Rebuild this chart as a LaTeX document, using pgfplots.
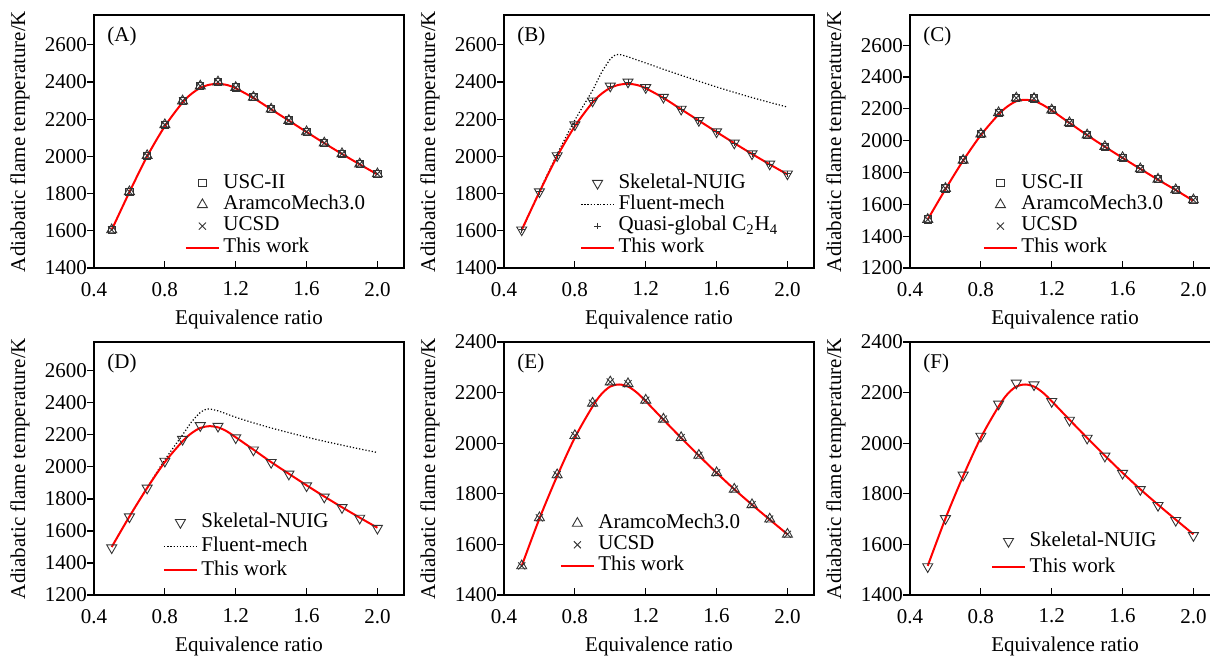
\documentclass[border=0pt]{standalone}
\usepackage{fontspec}
\setmainfont{Liberation Serif}
\usepackage{pgfplots}
\usepackage{pgfplotstable}
\pgfplotsset{compat=1.18}

% marker data (phi, T)
\pgfplotstableread{
x T
0.5 1605
0.6 1810
0.7 2004
0.8 2170
0.9 2298
1.0 2378
1.1 2400
1.2 2370
1.3 2318
1.4 2254
1.5 2193
1.6 2132
1.7 2072
1.8 2014
1.9 1959
2.0 1906
}\dataA
\pgfplotstableread{
x T
0.5 1605
0.6 1808
0.7 2000
0.8 2162
0.9 2290
0.95 2336
1.0 2368
1.05 2385
1.1 2390
1.15 2384
1.2 2366
1.3 2314
1.4 2253
1.5 2192
1.6 2131
1.7 2071
1.8 2013
1.9 1957
2.0 1903
}\workA
\pgfplotstableread{
x T
0.5 1600
0.6 1812
0.7 2012
0.8 2195
0.9 2355
0.95 2450
1.0 2523
1.03 2546
1.06 2546
1.1 2535
1.2 2502
1.3 2468
1.4 2436
1.5 2404
1.6 2373
1.7 2344
1.8 2316
1.9 2290
2.0 2265
}\fluentB
\pgfplotstableread{
x T
0.5 1505
0.6 1700
0.7 1877
0.8 2042
0.9 2176
1.0 2268
1.1 2265
1.2 2193
1.3 2113
1.4 2036
1.5 1963
1.6 1894
1.7 1823
1.8 1758
1.9 1691
2.0 1628
}\dataC
\pgfplotstableread{
x T
0.5 1505
0.6 1695
0.7 1875
0.8 2035
0.9 2165
0.95 2215
1.0 2248
1.05 2257
1.1 2250
1.15 2225
1.2 2190
1.3 2112
1.4 2035
1.5 1962
1.6 1892
1.7 1823
1.8 1755
1.9 1690
2.0 1622
}\workC
\pgfplotstableread{
x T
0.5 1495
0.6 1688
0.7 1868
0.8 2036
0.9 2172
1.0 2258
1.1 2254
1.2 2182
1.3 2106
1.4 2028
1.5 1955
1.6 1882
1.7 1812
1.8 1746
1.9 1680
2.0 1617
}\dataD
\pgfplotstableread{
x T
0.5 1500
0.6 1690
0.7 1868
0.8 2030
0.9 2160
0.95 2210
1.0 2243
1.05 2254
1.1 2247
1.15 2222
1.2 2185
1.3 2108
1.4 2030
1.5 1957
1.6 1885
1.7 1815
1.8 1748
1.9 1683
2.0 1620
}\workD
\pgfplotstableread{
x T
0.5 1500
0.6 1690
0.7 1870
0.8 2045
0.9 2200
0.95 2280
1.0 2340
1.04 2362
1.1 2350
1.2 2310
1.3 2275
1.4 2243
1.5 2214
1.6 2186
1.7 2160
1.8 2136
1.9 2112
2.0 2090
}\fluentD
\pgfplotstableread{
x T
0.5 1515
0.6 1705
0.7 1875
0.8 2030
0.9 2158
1.0 2242
1.1 2235
1.2 2170
1.3 2095
1.4 2022
1.5 1952
1.6 1883
1.7 1818
1.8 1757
1.9 1700
2.0 1640
}\dataE
\pgfplotstableread{
x T
0.5 1512
0.6 1702
0.7 1874
0.8 2028
0.9 2155
1.0 2238
1.1 2231
1.2 2165
1.3 2091
1.4 2020
1.5 1949
1.6 1881
1.7 1817
1.8 1754
1.9 1695
2.0 1635
}\dataF
\pgfplotstableread{
x T
0.5 1515
0.6 1702
0.7 1870
0.8 2022
0.9 2145
0.95 2194
1.0 2224
1.05 2232
1.1 2224
1.15 2200
1.2 2166
1.3 2093
1.4 2021
1.5 1951
1.6 1883
1.7 1818
1.8 1757
1.9 1698
2.0 1640
}\workE

\pgfplotsset{
  limg/.style={legend image code/.code={\draw[mark repeat=2,mark phase=2,##1] plot coordinates {(0pt,0pt) (8.25pt,0pt) (16.5pt,0pt)};}},
  flame/.style={
    scale only axis, width=155pt, height=126.5pt,
    anchor=south west,
    xmin=0.4, xmax=2.15,
    xtick={0.4,0.8,1.2,1.6,2.0},
    xticklabels={0.4,0.8,1.2,1.6,2.0},
    xtick pos=bottom, ytick pos=left,
    tick align=outside,
    major tick length=3.5pt,
    major x tick style={yshift=3.5pt},
    tick style={black, line width=0.6pt},
    axis line style={black, line width=0.7pt},
    font=\fontsize{10.5}{12}\selectfont,
    /pgf/number format/assume math mode=true,
    /pgf/number format/1000 sep={},
    yticklabel style={xshift=3.5pt},
    xlabel={Equivalence ratio},
    ylabel={Adiabatic flame temperature/K},
    every axis x label/.style={at={(axis description cs:0.5,-0.205)},anchor=center},
    every axis y label/.style={at={(axis description cs:-0.239,0.5)},rotate=90,anchor=center},
    legend cell align=left,
    legend style={draw=none, fill=none, anchor=south west, inner sep=0pt, row sep=0pt,
      font=\fontsize{10.5}{12}\selectfont,
      nodes={inner xsep=1.75pt, inner ysep=0.7pt, text height=7pt, text depth=2.3pt}},
    clip=false,
  },
  msq/.style={only marks, black!80, mark=square, mark size=1.8pt, mark options={solid, line width=0.45pt}, limg},
  mtri/.style={only marks, black!80, mark=triangle, mark size=2.9pt, mark options={solid, line width=0.45pt}, limg},
  mx/.style={only marks, black!80, mark=x, mark size=2.5pt, mark options={solid, line width=0.45pt}, limg},
  mdtri/.style={only marks, black!80, mark=triangle, mark size=2.9pt, mark options={solid, rotate=180, line width=0.45pt}, limg},
  mplus/.style={only marks, black!80, mark=+, mark size=1.6pt, mark options={solid, line width=0.45pt}, limg},
  work/.style={red, line width=1pt, smooth, no marks, limg},
  fluent/.style={black, densely dotted, line width=0.6pt, smooth, tension=0.4, no marks, limg},
}

\begin{document}
\begin{tikzpicture}
\useasboundingbox (0,0) rectangle (605pt,328pt);

% (A)
\begin{axis}[flame, at={(47pt,194pt)}, ymin=1400, ymax=2760, ytick={1400,1600,...,2600},
  legend style={at={(0.292,0.037)}}]
\addplot[msq] table[x=x,y=T] {\dataA}; \addlegendentry{USC-II}
\addplot[mtri] table[x=x,y=T] {\dataA}; \addlegendentry{AramcoMech3.0}
\addplot[mx] table[x=x,y=T] {\dataA}; \addlegendentry{UCSD}
\addplot[work] table[x=x,y=T] {\workA}; \addlegendentry{This work}
\node[anchor=north west, inner sep=0pt] at (rel axis cs:0.042,0.953) {(A)};
\end{axis}

% (B)
\begin{axis}[flame, at={(252pt,194pt)}, ymin=1400, ymax=2760, ytick={1400,1600,...,2600},
  legend style={at={(0.244,0.037)}}]
\addplot[mdtri] table[x=x,y=T] {\dataA}; \addlegendentry{Skeletal-NUIG}
\addplot[fluent] table[x=x,y=T] {\fluentB}; \addlegendentry{Fluent-mech}
\addplot[mplus] table[x=x,y=T] {\dataA}; \addlegendentry{Quasi-global C\textsubscript{2}H\textsubscript{4}}
\addplot[work] table[x=x,y=T] {\workA}; \addlegendentry{This work}
\node[anchor=north west, inner sep=0pt] at (rel axis cs:0.042,0.953) {(B)};
\end{axis}

% (C)
\begin{axis}[flame, at={(455pt,194pt)}, ymin=1200, ymax=2790, ytick={1200,1400,...,2600},
  legend style={at={(0.234,0.037)}}]
\addplot[msq] table[x=x,y=T] {\dataC}; \addlegendentry{USC-II}
\addplot[mtri] table[x=x,y=T] {\dataC}; \addlegendentry{AramcoMech3.0}
\addplot[mx] table[x=x,y=T] {\dataC}; \addlegendentry{UCSD}
\addplot[work] table[x=x,y=T] {\workC}; \addlegendentry{This work}
\node[anchor=north west, inner sep=0pt] at (rel axis cs:0.042,0.953) {(C)};
\end{axis}

% (D)
\begin{axis}[flame, at={(47pt,30.5pt)}, ymin=1200, ymax=2780, ytick={1200,1400,...,2600},
  legend style={at={(0.221,0.048)}, nodes={inner ysep=1.35pt}}]
\addplot[mdtri] table[x=x,y=T] {\dataD}; \addlegendentry{Skeletal-NUIG}
\addplot[fluent] table[x=x,y=T] {\fluentD}; \addlegendentry{Fluent-mech}
\addplot[work] table[x=x,y=T] {\workD}; \addlegendentry{This work}
\node[anchor=north west, inner sep=0pt] at (rel axis cs:0.042,0.953) {(D)};
\end{axis}

% (E)
\begin{axis}[flame, at={(252pt,30.5pt)}, ymin=1400, ymax=2400, ytick={1400,1600,...,2400},
  legend style={at={(0.179,0.07)}}]
\addplot[mtri] table[x=x,y=T] {\dataE}; \addlegendentry{AramcoMech3.0}
\addplot[mx] table[x=x,y=T] {\dataE}; \addlegendentry{UCSD}
\addplot[work] table[x=x,y=T] {\workE}; \addlegendentry{This work}
\node[anchor=north west, inner sep=0pt] at (rel axis cs:0.042,0.953) {(E)};
\end{axis}

% (F)
\begin{axis}[flame, at={(455pt,30.5pt)}, ymin=1400, ymax=2400, ytick={1400,1600,...,2400},
  legend style={at={(0.26,0.056)}, nodes={inner ysep=1.85pt}}]
\addplot[mdtri] table[x=x,y=T] {\dataF}; \addlegendentry{Skeletal-NUIG}
\addplot[work] table[x=x,y=T] {\workE}; \addlegendentry{This work}
\node[anchor=north west, inner sep=0pt] at (rel axis cs:0.042,0.953) {(F)};
\end{axis}
\end{tikzpicture}
\end{document}
